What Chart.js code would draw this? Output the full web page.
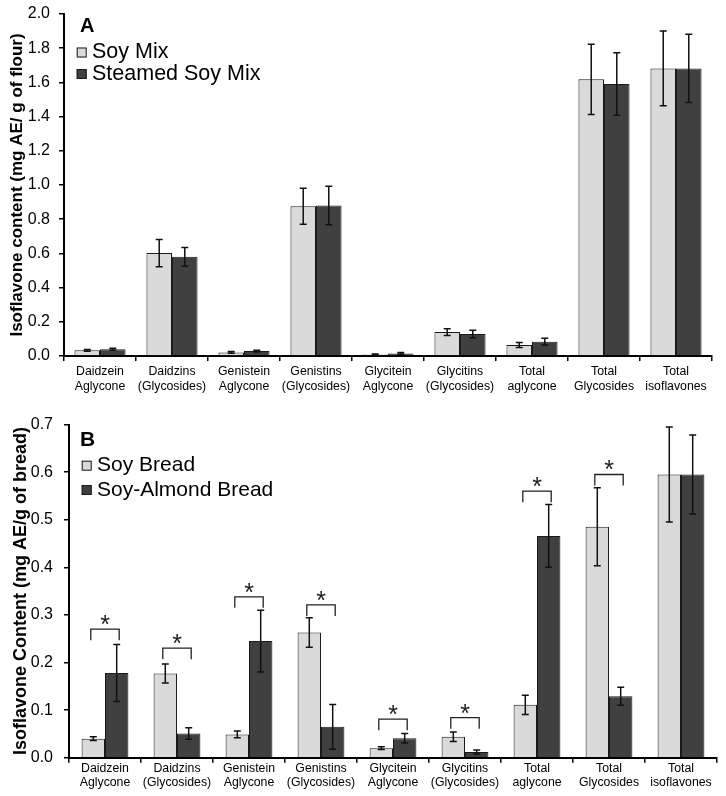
<!DOCTYPE html>
<html><head><meta charset="utf-8">
<script src="https://cdn.jsdelivr.net/npm/chart.js@4.4.0/dist/chart.umd.min.js"></script>
<style>
html,body{margin:0;padding:0;background:#fff;}
#wrap{position:relative;width:726px;height:796px;background:#fff;}
canvas{position:absolute;left:0;}
#ca{top:0;} #cb{top:400px;}
</style></head><body>
<div id="wrap"><canvas id="ca" width="726" height="400"></canvas><canvas id="cb" width="726" height="396"></canvas></div>
<script>
// ---- data ----
const categories = [['Daidzein','Aglycone'],['Daidzins','(Glycosides)'],['Genistein','Aglycone'],['Genistins','(Glycosides)'],['Glycitein','Aglycone'],['Glycitins','(Glycosides)'],['Total','aglycone'],['Total','Glycosides'],['Total','isoflavones']];

// Panel A (mg AE / g of flour)
const soyMix       = [0.033, 0.602, 0.021, 0.876, 0.009, 0.140, 0.064, 1.618, 1.682];
const soyMixErr    = [0.005, 0.080, 0.005, 0.105, 0.003, 0.020, 0.015, 0.205, 0.218];
const steamed      = [0.039, 0.580, 0.029, 0.880, 0.015, 0.128, 0.084, 1.591, 1.682];
const steamedErr   = [0.006, 0.055, 0.005, 0.112, 0.005, 0.022, 0.020, 0.183, 0.200];
const ticksA = [0, 2.0, 0.2];

// Panel B (mg AE / g of bread)
const soyBread     = [0.040, 0.177, 0.049, 0.263, 0.020, 0.044, 0.111, 0.485, 0.595];
const soyBreadErr  = [0.004, 0.020, 0.007, 0.031, 0.003, 0.010, 0.020, 0.082, 0.100];
const almondBread  = [0.178, 0.051, 0.245, 0.065, 0.041, 0.012, 0.466, 0.129, 0.595];
const almondErr    = [0.060, 0.012, 0.065, 0.047, 0.010, 0.004, 0.066, 0.019, 0.083];
const sigLevelsB   = [0.270, 0.230, 0.338, 0.321, 0.081, 0.084, 0.560, 0.595, null];
const ticksB = [0, 0.7, 0.1];

const LIGHT = '#dadada', DARK = '#404040', EDGE = '#1a1a1a';
const FONT = "'Liberation Sans', Arial, sans-serif";
Chart.defaults.font.family = FONT;
Chart.defaults.color = '#000';

const errorBars = {
  id: 'errorBars',
  afterDatasetsDraw(chart) {
    const ctx = chart.ctx, y = chart.scales.y;
    ctx.save();
    ctx.strokeStyle = '#111'; ctx.lineWidth = 1.5;
    chart.data.datasets.forEach((ds, i) => {
      const meta = chart.getDatasetMeta(i);
      meta.data.forEach((el, j) => {
        const v = ds.data[j], e = ds.errors[j];
        const yt = y.getPixelForValue(v + e), yb = y.getPixelForValue(v - e);
        const x = el.x, c = 3.5;
        ctx.beginPath();
        ctx.moveTo(x, yt); ctx.lineTo(x, yb);
        ctx.moveTo(x - c, yt); ctx.lineTo(x + c, yt);
        ctx.moveTo(x - c, yb); ctx.lineTo(x + c, yb);
        ctx.stroke();
      });
    });
    ctx.restore();
  }
};

const panelLegend = {
  id: 'panelLegend',
  afterDraw(chart, args, o) {
    const ctx = chart.ctx, a = chart.chartArea;
    ctx.save();
    ctx.fillStyle = '#000';
    ctx.textBaseline = 'middle'; ctx.textAlign = 'left';
    ctx.font = 'bold ' + o.letterSize + 'px ' + FONT;
    ctx.fillText(o.letter, a.left + o.letterX, a.top + o.letterY);
    ctx.font = o.fontSize + 'px ' + FONT;
    chart.data.datasets.forEach((ds, i) => {
      const cy = a.top + o.rowY[i];
      ctx.fillStyle = ds.backgroundColor;
      ctx.fillRect(a.left + o.boxX, cy - 5, 10, 10);
      ctx.strokeStyle = EDGE; ctx.lineWidth = 1;
      ctx.strokeRect(a.left + o.boxX + 0.5, cy - 4.5, 9, 9);
      ctx.fillStyle = '#000';
      ctx.fillText(ds.label, a.left + o.textX, cy);
    });
    ctx.restore();
  }
};

const sigBrackets = {
  id: 'sigBrackets',
  afterDatasetsDraw(chart, args, o) {
    if (!o.levels) return;
    const ctx = chart.ctx, y = chart.scales.y;
    const m0 = chart.getDatasetMeta(0), m1 = chart.getDatasetMeta(1);
    ctx.save();
    ctx.strokeStyle = '#222'; ctx.lineWidth = 1.3;
    ctx.fillStyle = '#222';
    ctx.font = '25px ' + FONT; ctx.textAlign = 'center'; ctx.textBaseline = 'alphabetic';
    o.levels.forEach((lv, j) => {
      if (lv === null) return;
      const x1 = m0.data[j].x - 2.5, x2 = m1.data[j].x + 2.5;
      const yy = y.getPixelForValue(lv);
      ctx.beginPath();
      ctx.moveTo(x1, yy + 11); ctx.lineTo(x1, yy); ctx.lineTo(x2, yy); ctx.lineTo(x2, yy + 11);
      ctx.stroke();
      ctx.fillText('*', (x1 + x2) / 2, yy + 4);
    });
    ctx.restore();
  }
};

function makeChart(id, cfg) {
  return new Chart(document.getElementById(id), {
    type: 'bar',
    data: {
      labels: categories,
      datasets: [
        {label: cfg.names[0], data: cfg.s1, errors: cfg.e1, backgroundColor: LIGHT, borderColor: EDGE, borderWidth: 1},
        {label: cfg.names[1], data: cfg.s2, errors: cfg.e2, backgroundColor: DARK, borderColor: EDGE, borderWidth: 1}
      ]
    },
    plugins: [errorBars, panelLegend, sigBrackets],
    options: {
      responsive: false, animation: false, devicePixelRatio: 1,
      datasets: {bar: {categoryPercentage: cfg.catPct, barPercentage: 1.0}},
      layout: {padding: cfg.pad},
      plugins: {
        legend: {display: false}, tooltip: {enabled: false}, title: {display: false},
        panelLegend: cfg.legend,
        sigBrackets: {levels: cfg.sig}
      },
      scales: {
        x: {
          offset: true,
          grid: {display: true, drawOnChartArea: false, drawTicks: true, tickLength: 5, color: '#000', lineWidth: 1.5, offset: true},
          border: {display: true, color: '#000', width: 2},
          ticks: {color: '#000', font: {size: 12.3, lineHeight: 1.15}, padding: cfg.xPad, maxRotation: 0, autoSkip: false},
          afterFit: s => { s.height = cfg.xH; s.paddingLeft = 0; s.paddingRight = 0; }
        },
        y: {
          min: cfg.ticks[0], max: cfg.ticks[1],
          ticks: {stepSize: cfg.ticks[2], callback: v => Number(v).toFixed(1), color: '#000', font: {size: 16}, padding: cfg.yPad},
          grid: {drawOnChartArea: false, drawTicks: true, tickLength: 5, color: '#000', lineWidth: 1.5},
          border: {display: true, color: '#000', width: 2},
          title: {display: true, text: cfg.yTitle, color: '#000', font: {size: cfg.yTitleSize, weight: 'bold'}, padding: {top: cfg.yTitlePad, bottom: 0}},
          afterFit: s => { s.width = cfg.yW; s.paddingTop = 0; s.paddingBottom = 0; }
        }
      }
    }
  });
}

makeChart('ca', {
  names: ['Soy Mix', 'Steamed Soy Mix'], s1: soyMix, e1: soyMixErr, s2: steamed, e2: steamedErr,
  ticks: ticksA, catPct: 0.71, pad: {top: 14, right: 14, left: 0, bottom: 0}, xH: 44, yW: 64, yPad: 9, xPad: 4,
  yTitle: 'Isoflavone content (mg AE/ g of flour)', yTitleSize: 17, yTitlePad: 7, sig: null,
  legend: {letter: 'A', letterSize: 20, letterX: 16, letterY: 12.7, fontSize: 21.5, boxX: 12.7, textX: 28, rowY: [38.5, 60]}
});

makeChart('cb', {
  names: ['Soy Bread', 'Soy-Almond Bread'], s1: soyBread, e1: soyBreadErr, s2: almondBread, e2: almondErr,
  ticks: ticksB, catPct: 0.65, pad: {top: 24.5, right: 9, left: 0, bottom: 0}, xH: 38.3, yW: 69, yPad: 11, xPad: -1,
  yTitle: 'Isoflavone Content (mg AE/g of bread)', yTitleSize: 18, yTitlePad: 10, sig: sigLevelsB,
  legend: {letter: 'B', letterSize: 21, letterX: 11, letterY: 16.2, fontSize: 21, boxX: 12.7, textX: 28, rowY: [41.2, 65.5]}
});
</script>
</body></html>
